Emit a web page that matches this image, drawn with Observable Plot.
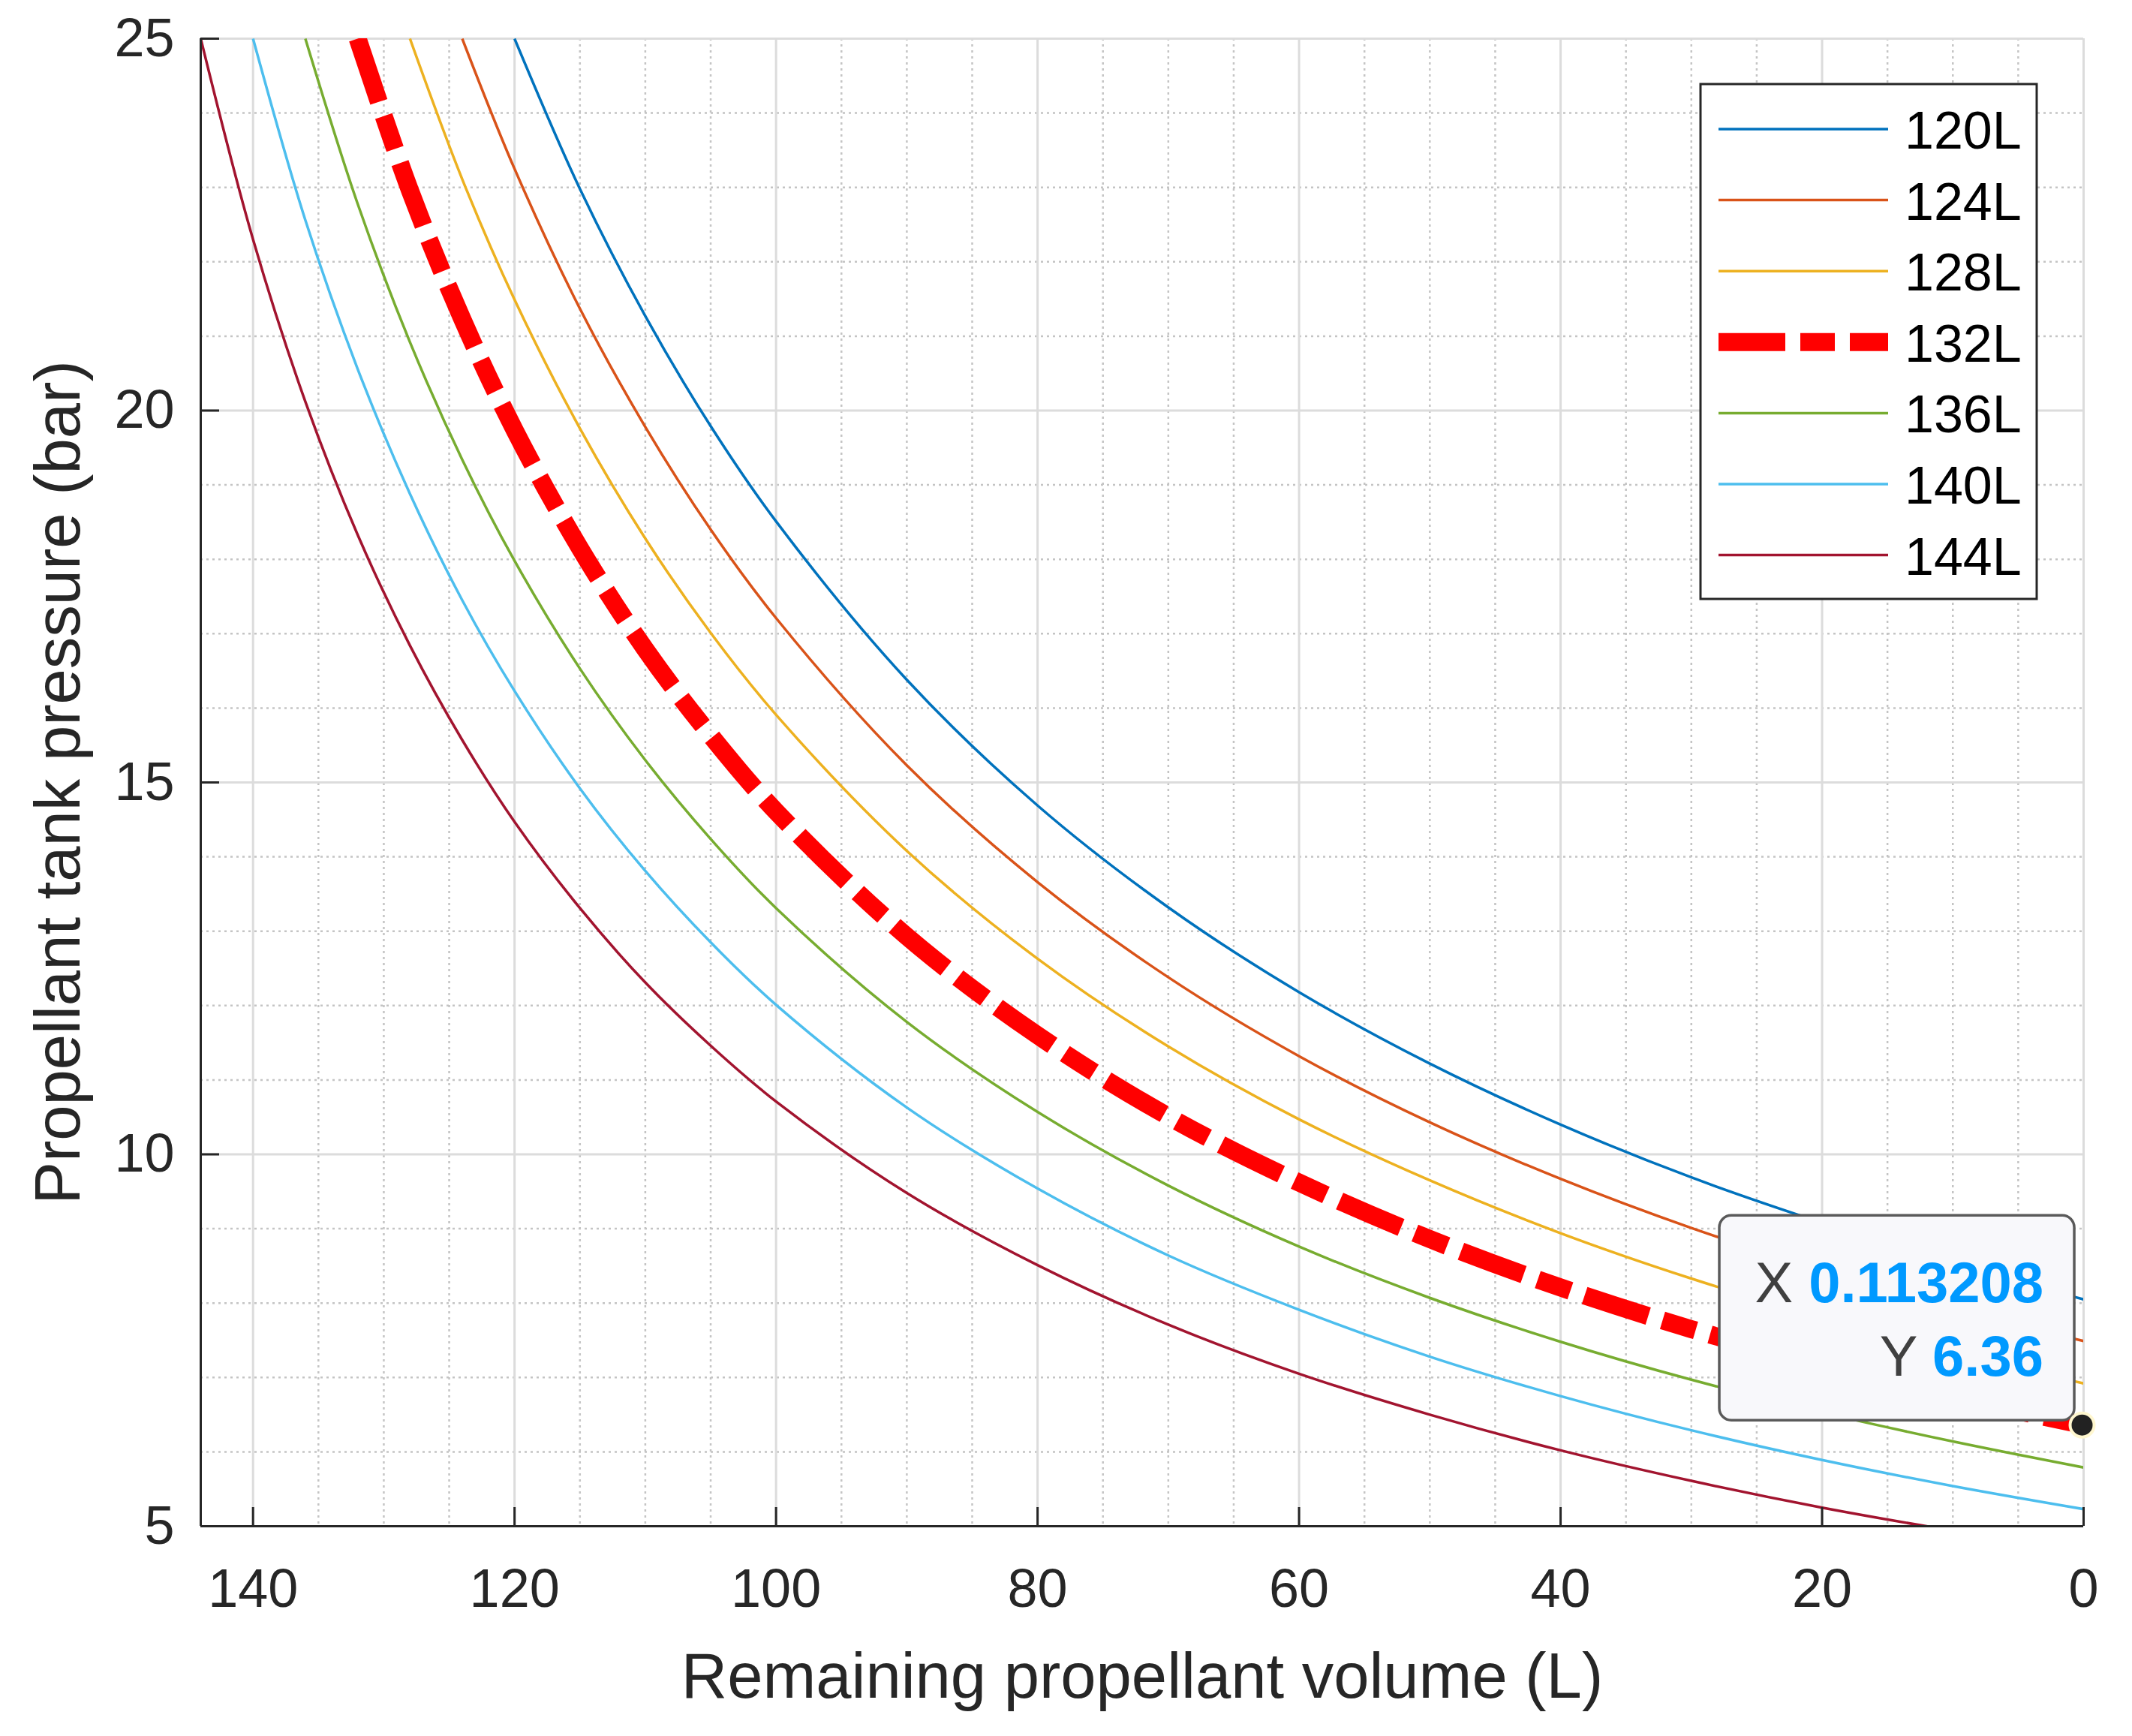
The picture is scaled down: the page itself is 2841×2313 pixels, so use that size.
<!DOCTYPE html>
<html>
<head>
<meta charset="utf-8">
<script src="https://cdn.jsdelivr.net/npm/d3@7"></script>
<script src="https://cdn.jsdelivr.net/npm/@observablehq/plot@0.6"></script>
<style>
html, body { margin: 0; padding: 0; background: #ffffff; }
#chart svg { display: block; }
</style>
</head>
<body>
<div id="chart"></div>
<script>
// ---------------- data ----------------
const volume = [0, 10, 20, 30, 40, 50, 60, 70, 80, 90, 100, 105, 110, 115, 120, 124, 128, 132, 136, 140, 144];
const seriesNames = ["120L", "124L", "128L", "132L", "136L", "140L", "144L"];
const p120 = [8.05, 8.53, 9.08, 9.69, 10.40, 11.22, 12.18, 13.32, 14.69, 16.38, 18.51, 19.79, 21.27, 22.98, 25.00];
const p124 = [7.49, 7.93, 8.44, 9.01, 9.67, 10.43, 11.32, 12.38, 13.66, 15.23, 17.21, 18.40, 19.78, 21.37, 23.25, 25.00];
const p128 = [6.92, 7.34, 7.80, 8.33, 8.94, 9.65, 10.47, 11.45, 12.63, 14.08, 15.91, 17.01, 18.28, 19.76, 21.49, 23.11, 25.00];
const p132 = [6.36, 6.74, 7.17, 7.65, 8.21, 8.86, 9.62, 10.51, 11.60, 12.93, 14.61, 15.63, 16.79, 18.15, 19.74, 21.23, 22.96, 25.00];
const p136 = [5.79, 6.14, 6.53, 6.97, 7.48, 8.07, 8.76, 9.58, 10.57, 11.78, 13.31, 14.24, 15.30, 16.53, 17.98, 19.34, 20.92, 22.78, 25.00];
const p140 = [5.23, 5.54, 5.89, 6.29, 6.75, 7.28, 7.91, 8.64, 9.54, 10.63, 12.01, 12.85, 13.81, 14.92, 16.23, 17.45, 18.88, 20.56, 22.56, 25.00];
const p144 = [4.66, 4.94, 5.25, 5.61, 6.02, 6.50, 7.05, 7.71, 8.51, 9.48, 10.71, 11.46, 12.31, 13.31, 14.47, 15.57, 16.84, 18.33, 20.12, 22.30, 25.00];
const seriesValues = [p120, p124, p128, p132, p136, p140, p144];

const xMajorTicks = [140, 120, 100, 80, 60, 40, 20, 0];
const xMinorTicks = [5, 10, 15, 25, 30, 35, 45, 50, 55, 65, 70, 75, 85, 90, 95, 105, 110, 115, 125, 130, 135];
const yMajorTicks = [5, 10, 15, 20, 25];
const yMinorTicks = [6, 7, 8, 9, 11, 12, 13, 14, 16, 17, 18, 19, 21, 22, 23, 24];
const xDomain = [144, 0];
const yDomain = [5, 25];
const xTitle = "Remaining propellant volume (L)";
const yTitle = "Propellant tank pressure (bar)";
const tipX = 0.113208;
const tipY = 6.36;
const tipLabels = ["X", "Y"];
const tipTexts = ["0.113208", "6.36"];

// ---------------- styles ----------------
const seriesColors = ["#0072BD", "#D95319", "#EDB120", "#FF0000", "#77AC30", "#4DBEEE", "#A2142F"];
const seriesWidths = [3.5, 3.5, 3.5, 24, 3.5, 3.5, 3.5];
const seriesDash = [null, null, null, "89,20,46,20", null, null, null];
const FONT = "'Liberation Sans', Arial, Helvetica, sans-serif";
const W = 2841, H = 2313;
const mL = 267, mR = 65, mT = 51, mB = 280;
const plotW = W - mL - mR, plotH = H - mT - mB;
const ink = "#262626";

// rows per series (descending volume so the path starts at the top)
const seriesRows = seriesValues.map((vals, i) =>
  vals.map((p, j) => ({series: seriesNames[i], volume: volume[j], pressure: p})).reverse()
);

const lineMarks = seriesRows.map((rows, i) =>
  Plot.line(rows, {
    x: "volume", y: "pressure",
    stroke: seriesColors[i], strokeWidth: seriesWidths[i],
    strokeDasharray: seriesDash[i] ?? undefined,
    strokeLinecap: "butt", strokeLinejoin: "round",
    curve: "catmull-rom", clip: true
  })
);

const chart = Plot.plot({
  width: W, height: H,
  marginLeft: mL, marginRight: mR, marginTop: mT, marginBottom: mB,
  style: {fontFamily: FONT, fontSize: "72px", color: ink, background: "#ffffff"},
  x: {domain: xDomain, axis: null},
  y: {domain: yDomain, axis: null},
  marks: [
    Plot.gridX(xMinorTicks, {stroke: "#c4c4c4", strokeOpacity: 1, strokeWidth: 2.5, strokeDasharray: "3,5"}),
    Plot.gridY(yMinorTicks, {stroke: "#c4c4c4", strokeOpacity: 1, strokeWidth: 2.5, strokeDasharray: "3,5"}),
    Plot.gridX(xMajorTicks, {stroke: "#dcdcdc", strokeOpacity: 1, strokeWidth: 3}),
    Plot.gridY(yMajorTicks, {stroke: "#dcdcdc", strokeOpacity: 1, strokeWidth: 3}),
    ...lineMarks,
    Plot.ruleX([xDomain[0]], {stroke: ink, strokeWidth: 3}),
    Plot.ruleY([yDomain[0]], {stroke: ink, strokeWidth: 3}),
    Plot.tickX(xMajorTicks, {x: d => d, stroke: ink, strokeWidth: 3, insetTop: plotH - 25}),
    Plot.tickY(yMajorTicks, {y: d => d, stroke: ink, strokeWidth: 3, insetRight: plotW - 25}),
    Plot.axisX(xMajorTicks, {tickSize: 0, tickPadding: 56, label: null, fontSize: 72, fill: ink, tickFormat: d => String(d)}),
    Plot.axisY(yMajorTicks, {tickSize: 0, tickPadding: 35, label: null, fontSize: 72, fill: ink, tickFormat: d => String(d)}),
    Plot.text([xTitle], {text: d => d, frameAnchor: "bottom", dy: 228, lineAnchor: "bottom", fontSize: 85, fill: ink}),
    Plot.text([yTitle], {text: d => d, frameAnchor: "left", dx: -162, rotate: -90, lineAnchor: "bottom", textAnchor: "middle", fontSize: 85, fill: ink}),
    Plot.dot([{x: tipX, y: tipY}], {x: "x", y: "y", r: 16, fill: "#222222", stroke: "#fff7cf", strokeWidth: 4})
  ]
});

document.getElementById("chart").appendChild(chart);

// ---------------- datatip (inserted under the dot) ----------------
const sx = chart.scale("x"), sy = chart.scale("y");
const px = sx.apply(tipX), py = sy.apply(tipY);
const tipW = 473, tipH = 273;
const tip = d3.create("svg:g")
  .attr("transform", `translate(${px - 10 - tipW},${py - 6 - tipH})`)
  .attr("font-family", FONT);
tip.append("rect")
  .attr("x", 0).attr("y", 0).attr("width", tipW).attr("height", tipH)
  .attr("rx", 16).attr("ry", 16)
  .attr("fill", "#f8f8fb").attr("stroke", "#5a5a5a").attr("stroke-width", 3.5);
const rowBase = [116, 214];
tipLabels.forEach((lab, i) => {
  const t = tip.append("text")
    .attr("x", tipW - 41).attr("y", rowBase[i])
    .attr("text-anchor", "end").attr("font-size", 76);
  t.append("tspan").attr("fill", "#404040").text(lab + " ");
  t.append("tspan").attr("fill", "#0099ff").attr("font-weight", "bold").text(tipTexts[i]);
});
const dotGroups = chart.querySelectorAll('g[aria-label="dot"]');
const dotG = dotGroups[dotGroups.length - 1];
chart.insertBefore(tip.node(), dotG);

// ---------------- legend ----------------
const legW = 448, legH = 686;
const legX = mL + plotW - 62 - legW, legY = mT + 61;
const leg = d3.select(chart).append("g")
  .attr("transform", `translate(${legX},${legY})`)
  .attr("font-family", FONT)
  .attr("text-anchor", "start");
leg.append("rect")
  .attr("x", 0).attr("y", 0).attr("width", legW).attr("height", legH)
  .attr("fill", "#ffffff").attr("stroke", ink).attr("stroke-width", 3);
seriesNames.forEach((name, i) => {
  const cy = 60 + i * 94.6;
  leg.append("line")
    .attr("x1", 24).attr("x2", 250).attr("y1", cy).attr("y2", cy)
    .attr("stroke", seriesColors[i]).attr("stroke-width", seriesWidths[i])
    .attr("stroke-dasharray", seriesDash[i]).attr("stroke-linecap", "butt");
  leg.append("text")
    .attr("x", 272).attr("y", cy + 26)
    .attr("text-anchor", "start")
    .attr("font-size", 70).attr("fill", "#000000")
    .text(name);
});
</script>
</body>
</html>
